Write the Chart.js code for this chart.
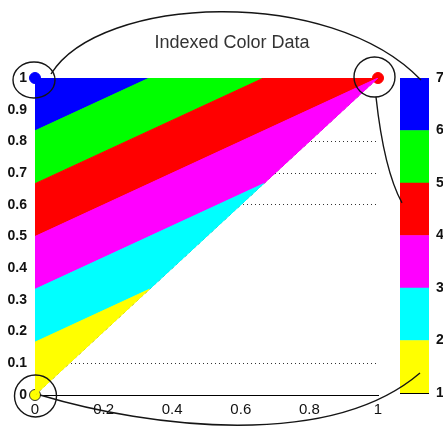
<!DOCTYPE html>
<html>
<head>
<meta charset="utf-8">
<script src="https://cdn.jsdelivr.net/npm/chart.js@4.4.0/dist/chart.umd.min.js"></script>
<style>
  html, body { margin: 0; padding: 0; background: #fff; }
  #wrap { position: relative; width: 443px; height: 430px; }
  #wrap canvas { position: absolute; left: 0; top: 0; }
</style>
</head>
<body>
<div id="wrap">
  <canvas id="patch" width="443" height="430"></canvas>
  <canvas id="cbar" width="443" height="430"></canvas>
</div>
<script>
"use strict";

// triangle patch: vertex positions and the colour index at each vertex
const vertX = [0, 0, 1];
const vertY = [0, 1, 1];
const vertC = [1, 7, 4];

// colormap, one colour per index band (1-2, 2-3, ... 6-7)
const cmap = ["#ffff00", "#00ffff", "#ff00ff", "#ff0000", "#00ff00", "#0000ff"];
const clim = [1, 7];

const xTicks = [0, 0.2, 0.4, 0.6, 0.8, 1];
const yTicks = [0, 0.1, 0.2, 0.3, 0.4, 0.5, 0.6, 0.7, 0.8, 0.9, 1];
const dottedRows = [0.1, 0.6, 0.7, 0.8];
const cbarTicks = [1, 2, 3, 4, 5, 6, 7];

const titleText = "Indexed Color Data";

const FONT = "'Liberation Sans', Arial, Helvetica, sans-serif";
const step = (clim[1] - clim[0]) / cmap.length;

// clip a polygon (points carry x, y, c) against c >= lim (dir 1) or c <= lim (dir -1)
function clipPoly(pts, dir, lim) {
  const out = [];
  for (let i = 0; i < pts.length; i++) {
    const a = pts[i], b = pts[(i + 1) % pts.length];
    const inA = (a.c - lim) * dir >= 0, inB = (b.c - lim) * dir >= 0;
    if (inA) out.push(a);
    if (inA !== inB) {
      const t = (lim - a.c) / (b.c - a.c);
      out.push({ x: a.x + t * (b.x - a.x), y: a.y + t * (b.y - a.y), c: lim });
    }
  }
  return out;
}

const tri = vertX.map((x, i) => ({ x: x, y: vertY[i], c: vertC[i] }));

function colorOf(v) {
  const k = Math.min(Math.floor((v - clim[0]) / step), cmap.length - 1);
  return cmap[Math.max(k, 0)];
}

const bandSets = [];
cmap.forEach((col, k) => {
  const lo = clim[0] + k * step, hi = lo + step;
  const poly = clipPoly(clipPoly(tri, 1, lo), -1, hi);
  if (poly.length < 3) return;
  const pts = poly.map(p => ({ x: p.x, y: p.y }));
  pts.push(pts[0]);
  bandSets.push({
    data: pts,
    fill: "shape",
    backgroundColor: col,
    borderColor: col,
    borderWidth: 1,
    pointRadius: 0,
    tension: 0
  });
});

const edgeSet = {
  data: [{ x: vertX[0], y: vertY[0] }, { x: vertX[2], y: vertY[2] }],
  fill: false,
  borderColor: "rgba(20,20,20,0.8)",
  borderWidth: 1,
  borderDash: [3, 3],
  pointRadius: 0
};

const vertexSet = {
  data: tri.map(p => ({ x: p.x, y: p.y })),
  showLine: false,
  clip: false,
  pointRadius: 5.5,
  pointBackgroundColor: vertC.map(colorOf),
  pointBorderColor: vertC.map(v => v === clim[0] ? "#333" : colorOf(v)),
  pointBorderWidth: 1
};

const titlePlugin = {
  id: "titleText",
  afterDraw(chart) {
    const ctx = chart.ctx;
    ctx.save();
    ctx.font = "18px " + FONT;
    ctx.fillStyle = "#333";
    ctx.textAlign = "center";
    ctx.textBaseline = "alphabetic";
    ctx.fillText(titleText, 232, 48);
    ctx.restore();
  }
};

const mainChart = new Chart(document.getElementById("patch"), {
  type: "line",
  data: { datasets: [...bandSets, edgeSet, vertexSet] },
  options: {
    responsive: false,
    animation: false,
    devicePixelRatio: 1,
    layout: { padding: { left: 0, top: 78, right: 65, bottom: 0 } },
    plugins: { legend: { display: false }, tooltip: { enabled: false } },
    scales: {
      x: {
        type: "linear",
        min: 0, max: 1,
        afterBuildTicks: s => { s.ticks = xTicks.map(v => ({ value: v })); },
        afterFit: s => { s.height = 35; },
        grid: { display: false, drawTicks: false },
        border: { display: true, color: "#000", width: 1 },
        ticks: {
          padding: 6, color: "#111", maxRotation: 0, autoSkip: false,
          font: { family: FONT, size: 15 },
          callback: v => String(v)
        }
      },
      y: {
        type: "linear",
        min: 0, max: 1,
        afterBuildTicks: s => { s.ticks = yTicks.map(v => ({ value: v })); },
        afterFit: s => { s.width = 35; },
        grid: {
          drawTicks: false,
          lineWidth: 1,
          color: c => dottedRows.includes(c.tick && c.tick.value) ? "#333" : "rgba(0,0,0,0)"
        },
        border: { display: false, dash: [1, 3] },
        ticks: {
          padding: 8, color: "#111", autoSkip: false,
          font: { family: FONT, size: 14, weight: "bold" },
          callback: v => String(v)
        }
      }
    }
  },
  plugins: [titlePlugin]
});

// rings around the vertices and the curves to the colour bar
const annotPlugin = {
  id: "annot",
  afterDraw(chart) {
    const ctx = chart.ctx;
    const xs = mainChart.scales.x, ys = mainChart.scales.y, cs = chart.scales.y;
    const area = chart.chartArea;
    const px = vertX.map(v => xs.getPixelForValue(v));
    const py = vertY.map(v => ys.getPixelForValue(v));
    ctx.save();
    ctx.strokeStyle = "#151515";
    ctx.lineWidth = 1.4;

    const ring = (x, y, rx, ry) => {
      ctx.beginPath();
      ctx.ellipse(x, y, rx, ry, 0, 0, Math.PI * 2);
      ctx.stroke();
    };
    ring(px[0] + 0.5, py[0] + 1, 21, 21);
    ring(px[1] - 1, py[1] + 2, 21, 18);
    ring(px[2] - 3.5, py[2] - 1, 20.5, 20);

    // top-left vertex -> top of colour bar
    ctx.beginPath();
    ctx.moveTo(px[1] + 16, py[1] - 4);
    ctx.bezierCurveTo(100, -5, 330, -15, area.left + 21, cs.getPixelForValue(6.96));
    ctx.stroke();

    // top-right vertex -> red band of colour bar
    ctx.beginPath();
    ctx.moveTo(px[2] - 2, py[2] + 19);
    ctx.quadraticCurveTo(px[2] + 6, 170, area.left + 2, cs.getPixelForValue(4.62));
    ctx.stroke();

    // bottom-left vertex -> yellow band of colour bar
    ctx.beginPath();
    ctx.moveTo(px[0] + 5, py[0]);
    ctx.bezierCurveTo(150, 428, 330, 450, area.left + 20, cs.getPixelForValue(1.38));
    ctx.stroke();

    ctx.restore();
  }
};

new Chart(document.getElementById("cbar"), {
  type: "bar",
  data: {
    labels: ["cbar"],
    datasets: cmap.map((col, k) => ({
      data: [[clim[0] + k * step, clim[0] + (k + 1) * step]],
      backgroundColor: col,
      borderWidth: 0,
      grouped: false,
      barPercentage: 1,
      categoryPercentage: 1
    }))
  },
  options: {
    responsive: false,
    animation: false,
    devicePixelRatio: 1,
    layout: { padding: { left: 400, top: 78, right: 0, bottom: 37 } },
    plugins: { legend: { display: false }, tooltip: { enabled: false } },
    scales: {
      x: { display: false },
      y: {
        position: "right",
        min: clim[0], max: clim[1],
        z: 1,
        afterBuildTicks: s => { s.ticks = cbarTicks.map(v => ({ value: v })); },
        afterFit: s => { s.width = 14; },
        grid: {
          drawTicks: false,
          color: c => (c.tick && c.tick.value === clim[0]) ? "#000" : "rgba(0,0,0,0)"
        },
        border: { display: false },
        ticks: {
          padding: 7, color: "#111", autoSkip: false,
          font: { family: FONT, size: 14, weight: "bold" }
        }
      }
    }
  },
  plugins: [annotPlugin]
});
</script>
</body>
</html>
